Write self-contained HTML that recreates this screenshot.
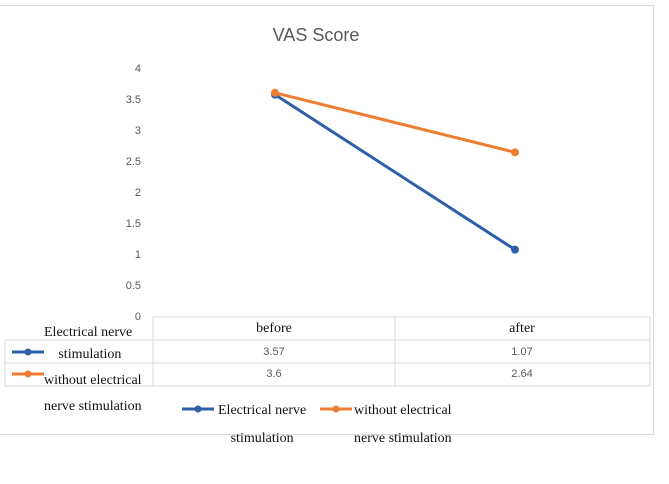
<!DOCTYPE html>
<html><head><meta charset="utf-8"><style>
body{margin:0;background:#fff;width:669px;height:484px;overflow:hidden;position:relative;font-family:"Liberation Sans",sans-serif}
.s{font-family:"Liberation Serif",serif;font-size:14px;color:#111;position:absolute;white-space:nowrap}
</style></head><body>
<div style="position:absolute;left:-1px;top:5px;width:654px;height:428px;border:1px solid #d9d9d9;border-left:none"></div>
<svg width="669" height="484" style="position:absolute;left:0;top:0">
<text x="316" y="41" text-anchor="middle" font-size="18" fill="#595959" font-family="Liberation Sans, sans-serif">VAS Score</text>
<g id="yt" font-size="11" fill="#595959" text-anchor="end"></g>
<g id="tbl" stroke="#d9d9d9" stroke-width="1" fill="none"></g>
<g id="vals" font-size="11" fill="#595959" text-anchor="middle"></g>
<g id="lines"></g>
</svg>
<div class="s" style="left:44px;top:322px;line-height:22px;text-align:center">Electrical nerve<br>&nbsp;stimulation</div>
<div class="s" style="left:44px;top:368px;line-height:26px">without electrical<br>nerve stimulation</div>
<div class="s" style="left:218px;top:397px;line-height:28px;text-align:center">Electrical nerve<br>stimulation</div>
<div class="s" style="left:354px;top:397px;line-height:28px">without electrical<br>nerve stimulation</div>
<script>
const categories=["before","after"];
const seriesNames=["Electrical nerve stimulation","without electrical nerve stimulation"];
const electrical=[3.57,1.07];
const without=[3.6,2.64];
const yTicks=[0,0.5,1,1.5,2,2.5,3,3.5,4];
const colors=["#2e5fa8","#ed7d31"];
const NS="http://www.w3.org/2000/svg";
const yS=v=>316-v*62;
const xS=i=>275+i*240;
function mk(t,a,p){const e=document.createElementNS(NS,t);for(const k in a)e.setAttribute(k,a[k]);p.appendChild(e);return e;}
const yt=document.getElementById('yt');
yTicks.forEach(v=>{const t=mk('text',{x:141,y:yS(v)+4},yt);t.textContent=v;

});
const tb=document.getElementById('tbl');
[[153,317,650,317],[5,340,650,340],[5,363,650,363],[5,386,650,386],[153,317,153,386],[395,317,395,386],[650,317,650,386],[5,340,5,386]].forEach(l=>{
const e=mk('line',{x1:l[0],y1:l[1],x2:l[2],y2:l[3]},tb);

});
const vals=document.getElementById('vals');
const colX=[274,522];
categories.forEach((c,i)=>{const t=mk('text',{x:colX[i],y:332,'font-family':'Liberation Serif, serif','font-size':14,fill:'#111'},vals);t.textContent=c;

});
[electrical,without].forEach((s,j)=>s.forEach((v,i)=>{const t=mk('text',{x:colX[i],y:355+j*22},vals);t.textContent=v;

}));
const lg=document.getElementById('lines');
[electrical,without].forEach((s,j)=>{
const pts=s.map((v,i)=>xS(i)+','+yS(v)).join(' ');
const pl=mk('polyline',{points:pts,stroke:colors[j],'stroke-width':3,fill:'none'},lg);


s.forEach((v,i)=>{const c=mk('circle',{cx:xS(i),cy:yS(v),r:4,fill:colors[j]},lg);

});
});
[[12,352],[12,374],[182,409],[320,409]].forEach((p,k)=>{const j=k%2;
const l=mk('line',{x1:p[0],y1:p[1],x2:p[0]+32,y2:p[1],stroke:colors[j],'stroke-width':3},lg);


const c=mk('circle',{cx:p[0]+16,cy:p[1],r:3.5,fill:colors[j]},lg);

});
</script>
</body></html>
